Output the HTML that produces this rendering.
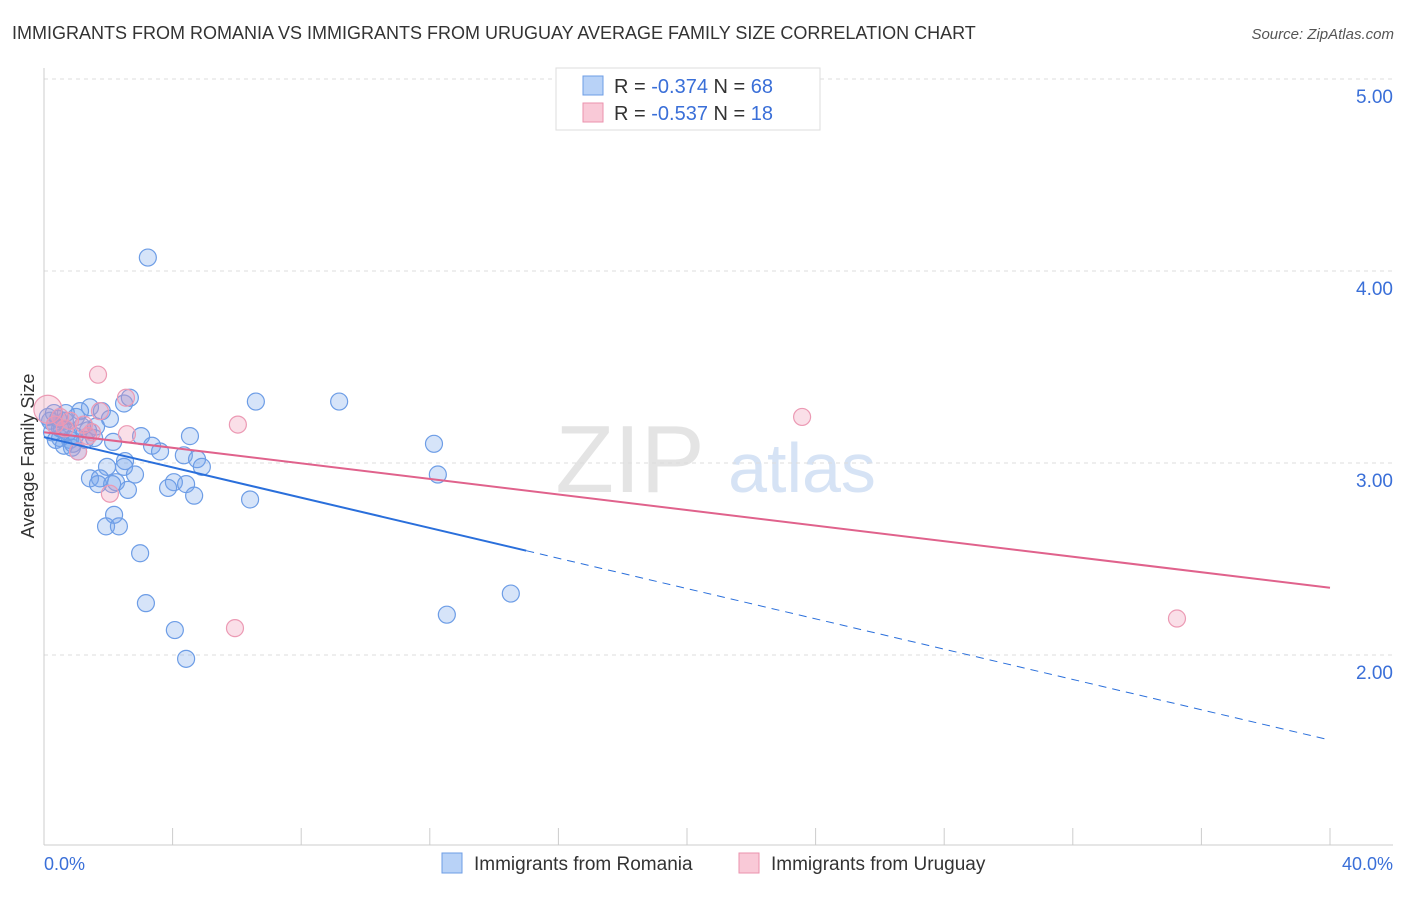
<!DOCTYPE html>
<html><head><meta charset="utf-8"><style>
body{margin:0;background:#fff;font-family:"Liberation Sans",sans-serif}
svg text{font-family:"Liberation Sans",sans-serif}
</style></head><body>
<svg width="1406" height="892" id="chart">
<text x="12" y="39" font-size="18" fill="#333">IMMIGRANTS FROM ROMANIA VS IMMIGRANTS FROM URUGUAY AVERAGE FAMILY SIZE CORRELATION CHART</text>
<text x="1394" y="39" font-size="15" fill="#555" text-anchor="end" font-style="italic">Source: ZipAtlas.com</text>
<text x="630" y="492" font-size="96" fill="#e4e4e4" font-family="Liberation Serif" text-anchor="middle">ZIP</text>
<text x="802" y="492" font-size="70" fill="#d6e3f5" text-anchor="middle">atlas</text>
<text x="34" y="456" font-size="18" fill="#333" text-anchor="middle" transform="rotate(-90 34 456)">Average Family Size</text>
<g id="grid"></g><g id="axes"></g><g id="pts"></g><g id="lines"></g>
<g>
<rect x="556" y="68" width="264" height="62" fill="#fff" stroke="#ddd"/>
<rect x="583" y="76" width="20" height="19" fill="#b8d2f7" stroke="#6d9de6"/>
<text x="614" y="93" font-size="20" fill="#333">R = <tspan fill="#3a6fd8">-0.374</tspan>   N = <tspan fill="#3a6fd8">68</tspan></text>
<rect x="583" y="103" width="20" height="19" fill="#f9c9d7" stroke="#eb92ae"/>
<text x="614" y="120" font-size="20" fill="#333">R = <tspan fill="#3a6fd8">-0.537</tspan>   N = <tspan fill="#3a6fd8"> 18</tspan></text>
</g>
<text x="44" y="870" font-size="18" fill="#3a6fd8">0.0%</text>
<text x="1393" y="870" font-size="18" fill="#3a6fd8" text-anchor="end">40.0%</text>
<g><rect x="442" y="853" width="20" height="20" fill="#b8d2f7" stroke="#6d9de6"/><text x="474" y="870" font-size="19" fill="#333">Immigrants from Romania</text></g>
<g><rect x="739" y="853" width="20" height="20" fill="#f9c9d7" stroke="#eb92ae"/><text x="771" y="870" font-size="19" fill="#333">Immigrants from Uruguay</text></g>
</svg>
<script>
const yTicks=[2,3,4,5];
const yTickLabels=["2.00","3.00","4.00","5.00"];
const romaniaX=[3.23,6.59,9.18,2.49,2.67,1.43,1.12,1.80,2.05,1.62,3.02,4.54,2.15,3.36,3.61,12.13,4.35,4.76,2.52,1.96,4.91,2.49,2.83,12.25,1.43,1.74,2.24,1.68,2.12,2.61,4.04,4.42,3.86,4.67,6.41,2.18,1.93,2.33,2.99,3.17,12.53,14.52,4.07,4.42,0.19,0.25,0.34,0.50,0.56,0.65,0.81,0.87,0.96,1.06,0.75,0.44,1.28,1.37,0.12,0.37,0.62,1.18,1.00,1.56,0.68,0.31,0.50,0.90];
const romaniaY=[4.07,3.32,3.32,3.31,3.34,3.29,3.27,3.27,3.23,3.19,3.14,3.14,3.11,3.09,3.06,3.10,3.04,3.02,3.01,2.98,2.98,2.98,2.94,2.94,2.92,2.92,2.90,2.89,2.89,2.86,2.90,2.89,2.87,2.83,2.81,2.73,2.67,2.67,2.53,2.27,2.21,2.32,2.13,1.98,3.22,3.16,3.20,3.13,3.18,3.22,3.12,3.08,3.14,3.06,3.16,3.23,3.12,3.17,3.24,3.12,3.09,3.19,3.24,3.13,3.26,3.26,3.18,3.10];
const uruguayX=[0.12,1.68,2.55,6.03,23.58,35.24,5.94,2.05,2.58,1.74,1.37,1.06,0.81,0.50,0.34,1.24,1.49,0.65];
const uruguayY=[3.28,3.46,3.34,3.20,3.24,2.19,2.14,2.84,3.15,3.27,3.14,3.06,3.22,3.24,3.20,3.20,3.16,3.18];
const romaniaTrend=[3.135,1.557], romaniaSolidEnd=15.0;
const uruguayTrend=[3.16,2.35];
const NS="http://www.w3.org/2000/svg";
const sx=v=>44+v/40*1286, sy=v=>79+(5-v)*192;
function mk(tag,attrs,parent){const e=document.createElementNS(NS,tag);for(const k in attrs)e.setAttribute(k,attrs[k]);document.getElementById(parent).appendChild(e);return e;}
yTicks.forEach((t,i)=>{
 const l=mk('line',{x1:44,x2:1393,y1:sy(t),y2:sy(t),stroke:'#ddd','stroke-dasharray':'4,4'},'grid');
 
 
 const tx=mk('text',{x:1393,y:sy(t)+24,'font-size':19,fill:'#3a6fd8','text-anchor':'end'},'grid');tx.textContent=yTickLabels[i];
 
 
});
const ax=mk('line',{x1:44,x2:44,y1:68,y2:845,stroke:'#ccc'},'axes');


const bx=mk('line',{x1:44,x2:1393,y1:845,y2:845,stroke:'#ccc'},'axes');


for(let i=0;i<=10;i++){const t=mk('line',{x1:sx(i*4),x2:sx(i*4),y1:828,y2:845,stroke:'#ccc'},'axes');
 
 }
romaniaX.forEach((x,i)=>{const c=mk('circle',{cx:sx(x),cy:sy(romaniaY[i]),r:8.5,fill:'rgba(120,165,235,0.3)',stroke:'#6d9de6','stroke-width':1.2},'pts');
 
 });
uruguayX.forEach((x,i)=>{const c=mk('circle',{cx:sx(x),cy:sy(uruguayY[i]),r:i==0?14:8.5,fill:'rgba(240,150,180,0.3)',stroke:'#ec9ab4','stroke-width':1.2},'pts');
 
 });
const bAt=x=>romaniaTrend[0]+(romaniaTrend[1]-romaniaTrend[0])*x/40;
const l1=mk('line',{x1:sx(0),y1:sy(bAt(0)),x2:sx(romaniaSolidEnd),y2:sy(bAt(romaniaSolidEnd)),stroke:'#2a6fdb','stroke-width':2},'lines');


const l2=mk('line',{x1:sx(romaniaSolidEnd),y1:sy(bAt(romaniaSolidEnd)),x2:sx(40),y2:sy(bAt(40)),stroke:'#2a6fdb','stroke-width':1,'stroke-dasharray':'8,6'},'lines');


const l3=mk('line',{x1:sx(0),y1:sy(uruguayTrend[0]),x2:sx(40),y2:sy(uruguayTrend[1]),stroke:'#e0628c','stroke-width':2},'lines');


</script>
</body></html>
